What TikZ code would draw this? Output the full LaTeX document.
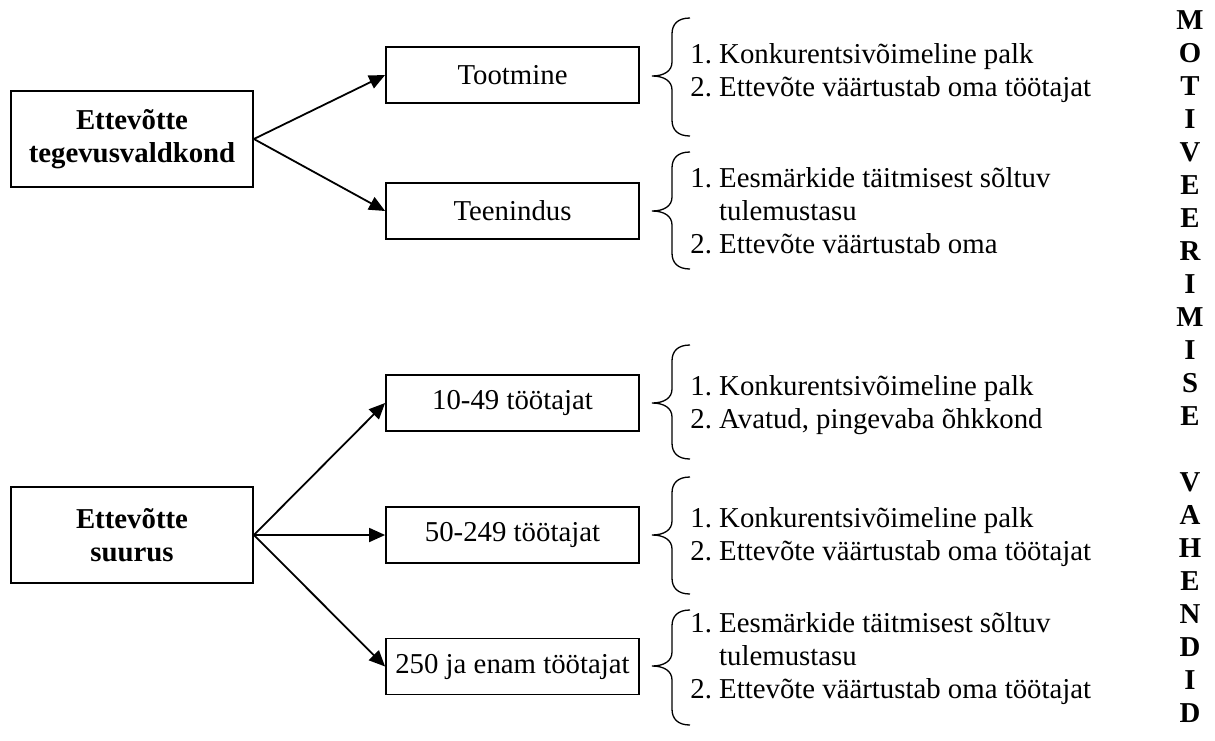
\documentclass[tikz,border=0pt]{standalone}
\usepackage{fontspec}
\setmainfont{Liberation Serif}
\usetikzlibrary{arrows.meta}
\newcommand\diagfont{\fontsize{14.4}{16.5}\selectfont}
\newcommand\leftbrace[3]{%
  \draw[bracestyle] (690,#1) .. controls (678,#1) and (672,#1+6) .. (672,#1+16)
    -- (672,#2-14) .. controls (672,#2-5) and (664,#2) .. (652,#2)
    .. controls (664,#2) and (672,#2+5) .. (672,#2+14)
    -- (672,#3-16) .. controls (672,#3-6) and (678,#3) .. (690,#3);}
\tikzset{
  mainbox/.style={draw, line width=0.9pt, minimum width=121pt, minimum height=48pt,
    align=center, inner sep=0pt, font=\diagfont\bfseries},
  subbox/.style={draw, line width=0.9pt, minimum width=126.5pt, minimum height=28pt,
    inner sep=0pt, font=\diagfont},
  arr/.style={line width=0.9pt, -{Triangle[length=8pt,width=7pt]}},
  bracestyle/.style={line width=0.65pt},
  listtext/.style={anchor=west, inner sep=0pt, font=\diagfont},
  vletter/.style={anchor=base, inner sep=0pt, font=\diagfont\bfseries}
}
\begin{document}
\begin{tikzpicture}[x=0.5pt,y=-0.5pt]
\useasboundingbox (0,0) rectangle (1215,740);
% left boxes
\node[mainbox] (A) at (132,139) {Ettevõtte\\tegevusvaldkond};
\node[mainbox] (B) at (132,535) {Ettevõtte\\suurus};
% middle boxes
\node[subbox] (s1) at (512.5,75) {Tootmine};
\node[subbox] (s2) at (512.5,211) {Teenindus};
\node[subbox] (s3) at (512.5,403) {10-49 töötajat};
\node[subbox] (s4) at (512.5,535) {50-249 töötajat};
\node[subbox] (s5) at (512.5,666.5) {250 ja enam töötajat};
% arrows
\draw[arr] (A.east) -- (s1.west);
\draw[arr] (A.east) -- (s2.west);
\draw[arr] (B.east) -- (s3.west);
\draw[arr] (B.east) -- (s4.west);
\draw[arr] (B.east) -- (s5.west);
% braces
\leftbrace{18}{76}{136}
\leftbrace{152}{211}{269}
\leftbrace{345}{403}{459}
\leftbrace{477}{535}{594}
\leftbrace{610}{666}{725}
% lists
\node[listtext] (l1) at (690,73) {\begin{tabular}{@{}l@{\ }l@{}}1. & Konkurentsivõimeline palk\\ 2. & Ettevõte väärtustab oma töötajat\end{tabular}};
\node[listtext] (l2) at (690,214) {\begin{tabular}{@{}l@{\ }l@{}}1. & Eesmärkide täitmisest sõltuv\\ & tulemustasu\\ 2. & Ettevõte väärtustab oma\end{tabular}};
\node[listtext] (l3) at (690,405) {\begin{tabular}{@{}l@{\ }l@{}}1. & Konkurentsivõimeline palk\\ 2. & Avatud, pingevaba õhkkond\end{tabular}};
\node[listtext] (l4) at (690,537) {\begin{tabular}{@{}l@{\ }l@{}}1. & Konkurentsivõimeline palk\\ 2. & Ettevõte väärtustab oma töötajat\end{tabular}};
\node[listtext] (l5) at (690,659) {\begin{tabular}{@{}l@{\ }l@{}}1. & Eesmärkide täitmisest sõltuv\\ & tulemustasu\\ 2. & Ettevõte väärtustab oma töötajat\end{tabular}};
% vertical title
\foreach \l [count=\i from 0] in {M,O,T,I,V,E,E,R,I,M,I,S,E}
  \node[vletter] (va\i) at (1190,29+33*\i) {\l};
\foreach \l [count=\i from 14] in {V,A,H,E,N,D,I,D}
  \node[vletter] (vb\i) at (1190,29+33*\i) {\l};
\end{tikzpicture}
\end{document}
